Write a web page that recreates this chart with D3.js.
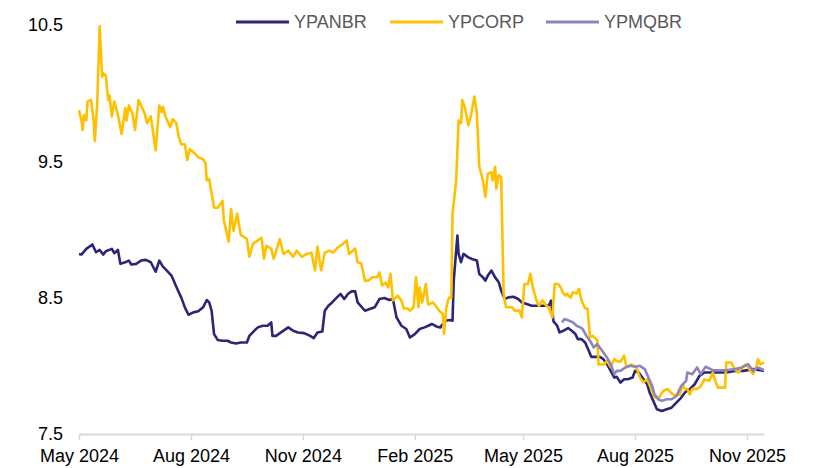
<!DOCTYPE html>
<html>
<head>
<meta charset="utf-8">
<script src="https://cdn.jsdelivr.net/npm/d3@7"></script>
<style>
  body { margin: 0; background: #fff; }
  svg { display: block; font-family: "Liberation Sans", Arial, sans-serif; }
  .line { fill: none; stroke-width: 2.6; stroke-linejoin: round; }
</style>
</head>
<body>
<div id="chart"><svg></svg></div>
<script>
const seriesNames = ["YPANBR", "YPCORP", "YPMQBR"];
const seriesColors = ["#2B2775", "#FFC000", "#8B86BF"];
const xTicks = ["2024-05-01", "2024-08-01", "2024-11-01", "2025-02-01", "2025-05-01", "2025-08-01", "2025-11-01"];
const yTicks = [7.5, 8.5, 9.5, 10.5];

const anbrDates = [
  "2024-05-01","2024-05-03","2024-05-07","2024-05-12","2024-05-15","2024-05-18","2024-05-21","2024-05-23","2024-05-28","2024-05-30",
  "2024-06-02","2024-06-04","2024-06-08","2024-06-11","2024-06-13","2024-06-17","2024-06-21","2024-06-25","2024-06-29","2024-07-03",
  "2024-07-06","2024-07-09","2024-07-12","2024-07-16","2024-07-19","2024-07-22","2024-07-24","2024-07-27","2024-07-30","2024-08-03",
  "2024-08-07","2024-08-11","2024-08-14","2024-08-16","2024-08-18","2024-08-20","2024-08-23","2024-08-27","2024-08-31","2024-09-03",
  "2024-09-07","2024-09-11","2024-09-16","2024-09-18","2024-09-22","2024-09-25","2024-09-29","2024-10-03","2024-10-06","2024-10-07",
  "2024-10-10","2024-10-14","2024-10-20","2024-10-24","2024-10-28","2024-11-02","2024-11-07","2024-11-10","2024-11-13","2024-11-17",
  "2024-11-19","2024-11-22","2024-11-25","2024-11-29","2024-12-02","2024-12-05","2024-12-08","2024-12-11","2024-12-14","2024-12-16",
  "2024-12-22","2024-12-26","2024-12-30","2025-01-03","2025-01-07","2025-01-11","2025-01-14","2025-01-17","2025-01-21","2025-01-25",
  "2025-01-28","2025-02-01","2025-02-05","2025-02-09","2025-02-12","2025-02-15","2025-02-19","2025-02-22","2025-02-26","2025-03-02",
  "2025-03-04","2025-03-05","2025-03-08","2025-03-09","2025-03-11","2025-03-13","2025-03-17","2025-03-20","2025-03-24","2025-03-26",
  "2025-03-29","2025-03-31","2025-04-02","2025-04-05","2025-04-08","2025-04-11","2025-04-13","2025-04-16","2025-04-19","2025-04-23",
  "2025-04-27","2025-04-30","2025-05-04","2025-05-08","2025-05-12","2025-05-18","2025-05-22","2025-05-24","2025-05-26","2025-05-29",
  "2025-05-31","2025-06-03","2025-06-07","2025-06-10","2025-06-13","2025-06-15","2025-06-18","2025-06-21","2025-06-24","2025-06-26",
  "2025-06-30","2025-07-03","2025-07-06","2025-07-09","2025-07-12","2025-07-15","2025-07-17","2025-07-20","2025-07-23","2025-07-26",
  "2025-07-30","2025-08-01","2025-08-04","2025-08-08","2025-08-11","2025-08-13","2025-08-16","2025-08-19","2025-08-23","2025-08-27",
  "2025-08-31","2025-09-04","2025-09-08","2025-09-11","2025-09-15","2025-09-19","2025-09-23","2025-09-27","2025-10-03","2025-10-10",
  "2025-10-15","2025-10-22","2025-10-29","2025-11-06","2025-11-12","2025-11-15"
];
const anbrValues = [
  8.82,8.816,8.858,8.89,8.833,8.85,8.816,8.84,8.858,8.826,
  8.85,8.748,8.76,8.772,8.743,8.748,8.772,8.777,8.76,8.69,
  8.772,8.728,8.70,8.662,8.60,8.54,8.502,8.429,8.375,8.392,
  8.40,8.429,8.483,8.465,8.404,8.233,8.19,8.184,8.184,8.171,
  8.164,8.171,8.171,8.22,8.257,8.282,8.294,8.294,8.318,8.22,
  8.22,8.245,8.282,8.257,8.245,8.24,8.22,8.204,8.245,8.252,
  8.404,8.441,8.465,8.502,8.527,8.49,8.527,8.546,8.546,8.465,
  8.404,8.417,8.429,8.49,8.498,8.483,8.49,8.355,8.294,8.27,
  8.208,8.233,8.27,8.282,8.294,8.307,8.287,8.282,8.331,8.336,
  8.331,8.625,8.956,8.821,8.76,8.821,8.796,8.784,8.772,8.674,
  8.649,8.625,8.662,8.699,8.649,8.613,8.551,8.49,8.502,8.507,
  8.49,8.465,8.454,8.441,8.441,8.441,8.441,8.478,8.326,8.294,
  8.245,8.257,8.277,8.257,8.233,8.196,8.196,8.171,8.11,8.066,
  8.066,8.066,8.049,8.012,7.963,7.914,7.919,7.877,7.902,7.902,
  7.914,7.963,7.951,7.902,7.865,7.804,7.743,7.682,7.669,7.682,
  7.693,7.73,7.767,7.804,7.829,7.865,7.926,7.951,7.951,7.951,
  7.951,7.963,7.963,7.976,7.968,7.963
];

const corpDates = [
  "2024-05-01","2024-05-03","2024-05-04","2024-05-05","2024-05-07","2024-05-08","2024-05-11","2024-05-13","2024-05-14","2024-05-16",
  "2024-05-18","2024-05-20","2024-05-21","2024-05-23","2024-05-25","2024-05-26","2024-05-28","2024-05-30","2024-06-02","2024-06-05",
  "2024-06-08","2024-06-09","2024-06-11","2024-06-14","2024-06-16","2024-06-19","2024-06-24","2024-06-26","2024-06-29","2024-07-03",
  "2024-07-06","2024-07-08","2024-07-09","2024-07-11","2024-07-15","2024-07-17","2024-07-20","2024-07-22","2024-07-24","2024-07-27",
  "2024-07-29","2024-07-31","2024-08-04","2024-08-07","2024-08-11","2024-08-13","2024-08-14","2024-08-16","2024-08-20","2024-08-23",
  "2024-08-27","2024-08-28","2024-09-01","2024-09-03","2024-09-05","2024-09-08","2024-09-11","2024-09-16","2024-09-18","2024-09-21",
  "2024-09-25","2024-09-28","2024-09-30","2024-10-02","2024-10-06","2024-10-08","2024-10-13","2024-10-16","2024-10-20","2024-10-24",
  "2024-10-27","2024-10-31","2024-11-04","2024-11-08","2024-11-11","2024-11-13","2024-11-16","2024-11-19","2024-11-23","2024-11-26",
  "2024-11-30","2024-12-04","2024-12-07","2024-12-09","2024-12-12","2024-12-14","2024-12-16","2024-12-19","2024-12-22","2024-12-25",
  "2024-12-28","2025-01-01","2025-01-03","2025-01-05","2025-01-08","2025-01-10","2025-01-12","2025-01-14","2025-01-18","2025-01-21",
  "2025-01-23","2025-01-26","2025-01-28","2025-01-31","2025-02-02","2025-02-04","2025-02-05","2025-02-07","2025-02-10","2025-02-12",
  "2025-02-16","2025-02-19","2025-02-21","2025-02-24","2025-02-25","2025-02-27","2025-03-01","2025-03-03","2025-03-04","2025-03-07",
  "2025-03-09","2025-03-11","2025-03-12","2025-03-14","2025-03-17","2025-03-19","2025-03-22","2025-03-24","2025-03-26","2025-03-29",
  "2025-03-31","2025-04-02","2025-04-05","2025-04-06","2025-04-08","2025-04-09","2025-04-11","2025-04-13","2025-04-15","2025-04-17",
  "2025-04-22","2025-04-24","2025-04-28","2025-04-30","2025-05-02","2025-05-05","2025-05-07","2025-05-09","2025-05-12","2025-05-14",
  "2025-05-17","2025-05-20","2025-05-22","2025-05-25","2025-05-27","2025-05-30","2025-06-01","2025-06-03","2025-06-05","2025-06-06",
  "2025-06-09","2025-06-11","2025-06-14","2025-06-16","2025-06-18","2025-06-21","2025-06-23","2025-06-25","2025-06-27","2025-07-01",
  "2025-07-02","2025-07-06","2025-07-09","2025-07-12","2025-07-15","2025-07-17","2025-07-20","2025-07-23","2025-07-25","2025-07-29",
  "2025-08-02","2025-08-05","2025-08-08","2025-08-11","2025-08-14","2025-08-17","2025-08-21","2025-08-24","2025-08-28","2025-08-31",
  "2025-09-03","2025-09-07","2025-09-09","2025-09-11","2025-09-13","2025-09-15","2025-09-17","2025-09-21","2025-09-24","2025-09-27",
  "2025-10-01","2025-10-04","2025-10-06","2025-10-08","2025-10-14","2025-10-15","2025-10-19","2025-10-22","2025-10-25","2025-10-28",
  "2025-10-31","2025-11-03","2025-11-06","2025-11-09","2025-11-10","2025-11-12","2025-11-15"
];
const corpValues = [
  9.875,9.80,9.73,9.84,9.80,9.94,9.95,9.80,9.65,9.93,
  10.49,10.12,10.145,10.13,9.95,9.985,9.83,9.94,9.84,9.70,
  9.89,9.80,9.91,9.85,9.73,9.95,9.85,9.78,9.83,9.58,
  9.91,9.86,9.90,9.83,9.75,9.81,9.78,9.68,9.625,9.625,
  9.51,9.59,9.56,9.53,9.515,9.485,9.36,9.37,9.16,9.16,
  9.21,9.07,8.91,9.15,8.99,9.115,8.96,8.93,8.80,8.895,
  8.92,8.94,8.785,8.88,8.86,8.785,8.93,8.82,8.845,8.80,
  8.845,8.80,8.82,8.83,8.70,8.875,8.70,8.83,8.845,8.83,
  8.87,8.895,8.92,8.82,8.845,8.86,8.76,8.75,8.625,8.625,
  8.65,8.65,8.685,8.59,8.61,8.575,8.675,8.48,8.515,8.48,
  8.42,8.42,8.405,8.43,8.65,8.43,8.575,8.465,8.60,8.45,
  8.465,8.43,8.405,8.38,8.235,8.43,8.50,8.50,9.115,9.36,
  9.80,9.78,9.95,9.90,9.765,9.83,9.975,9.85,9.46,9.36,
  9.24,9.41,9.42,9.36,9.46,9.30,9.40,9.385,8.53,8.43,
  8.43,8.405,8.405,8.355,8.60,8.60,8.675,8.575,8.48,8.44,
  8.48,8.44,8.43,8.355,8.60,8.60,8.575,8.53,8.515,8.53,
  8.50,8.54,8.53,8.565,8.48,8.42,8.42,8.21,8.22,8.19,
  8.01,8.01,8.035,7.99,8.05,8.035,8.03,8.075,7.99,8.01,
  7.99,7.915,7.88,7.90,7.84,7.77,7.77,7.815,7.83,7.80,
  7.78,7.79,7.865,7.83,7.83,7.79,7.83,7.83,7.85,7.90,
  7.89,7.95,7.89,7.84,7.84,8.025,8.025,7.975,7.95,7.99,
  8.01,7.975,7.94,8.00,8.05,8.01,8.025
];

const mqbrDates = [
  "2025-06-02","2025-06-04","2025-06-08","2025-06-11","2025-06-14","2025-06-17","2025-06-19","2025-06-22","2025-06-25","2025-06-28",
  "2025-07-01","2025-07-03","2025-07-06","2025-07-09","2025-07-12","2025-07-15","2025-07-17","2025-07-20","2025-07-24","2025-07-28",
  "2025-08-01","2025-08-05","2025-08-09","2025-08-12","2025-08-15","2025-08-17","2025-08-20","2025-08-23","2025-08-27","2025-08-31",
  "2025-09-04","2025-09-08","2025-09-12","2025-09-13","2025-09-17","2025-09-21","2025-09-24","2025-09-28","2025-10-04","2025-10-10",
  "2025-10-15","2025-10-22","2025-10-28","2025-11-02","2025-11-06","2025-11-10","2025-11-15"
];
const mqbrValues = [
  8.318,8.343,8.331,8.318,8.294,8.282,8.27,8.22,8.184,8.135,
  8.16,8.135,8.098,8.061,8.012,7.939,7.963,7.963,7.988,8.0,
  7.993,8.0,7.976,7.914,7.853,7.792,7.755,7.743,7.755,7.755,
  7.779,7.853,7.89,7.951,7.939,7.988,7.939,7.993,7.968,7.968,
  7.968,7.976,7.988,8.012,7.963,7.988,7.968
];

const width = 813, height = 468;
const margin = { top: 25, right: 49, bottom: 34, left: 79 };
const parse = d3.timeParse("%Y-%m-%d");

const svg = d3.select("svg").attr("width", width).attr("height", height);

const x = d3.scaleTime()
  .domain([parse("2024-05-01"), parse("2025-11-15")])
  .range([margin.left, width - margin.right]);
const y = d3.scaleLinear()
  .domain([7.5, 10.5])
  .range([height - margin.bottom, margin.top]);

// x axis
const xAxis = svg.append("g")
  .attr("transform", `translate(0,${height - margin.bottom})`)
  .call(d3.axisBottom(x)
    .tickValues(xTicks.map(parse))
    .tickFormat(d3.timeFormat("%b %Y"))
    .tickSizeInner(6)
    .tickSizeOuter(0)
    .tickPadding(9));
xAxis.select(".domain").attr("stroke", "#d9d9d9").attr("stroke-width", 2);
xAxis.selectAll(".tick line").attr("stroke", "#d9d9d9").attr("stroke-width", 1.5);
xAxis.selectAll(".tick text").attr("fill", "#000").style("font-size", "18px");

// y axis, labels only
const yAxis = svg.append("g")
  .attr("transform", `translate(${margin.left - 16},0)`)
  .call(d3.axisLeft(y).tickValues(yTicks).tickFormat(d3.format(".1f")).tickSize(0).tickPadding(0));
yAxis.select(".domain").remove();
yAxis.selectAll(".tick text").attr("fill", "#000").style("font-size", "18px");

const line = d3.line()
  .x(d => x(d.date))
  .y(d => y(d.value));

const series = [
  { name: seriesNames[0], color: seriesColors[0], dates: anbrDates, values: anbrValues },
  { name: seriesNames[1], color: seriesColors[1], dates: corpDates, values: corpValues },
  { name: seriesNames[2], color: seriesColors[2], dates: mqbrDates, values: mqbrValues }
].map(s => ({ ...s, points: s.dates.map((d, i) => ({ date: parse(d), value: s.values[i] })) }));

svg.append("g")
  .selectAll("path")
  .data(series)
  .join("path")
  .attr("class", "line")
  .attr("stroke", d => d.color)
  .attr("d", d => line(d.points));

// legend
const legendX = [236, 390, 546];
const legend = svg.append("g")
  .selectAll("g")
  .data(series)
  .join("g")
  .attr("transform", (d, i) => `translate(${legendX[i]},22)`);
legend.append("line")
  .attr("x1", 0).attr("x2", 53)
  .attr("stroke", d => d.color)
  .attr("stroke-width", 3);
legend.append("text")
  .attr("x", 58)
  .attr("dy", "0.35em")
  .attr("fill", "#595959")
  .style("font-size", "18px")
  .text(d => d.name);
</script>
</body>
</html>
